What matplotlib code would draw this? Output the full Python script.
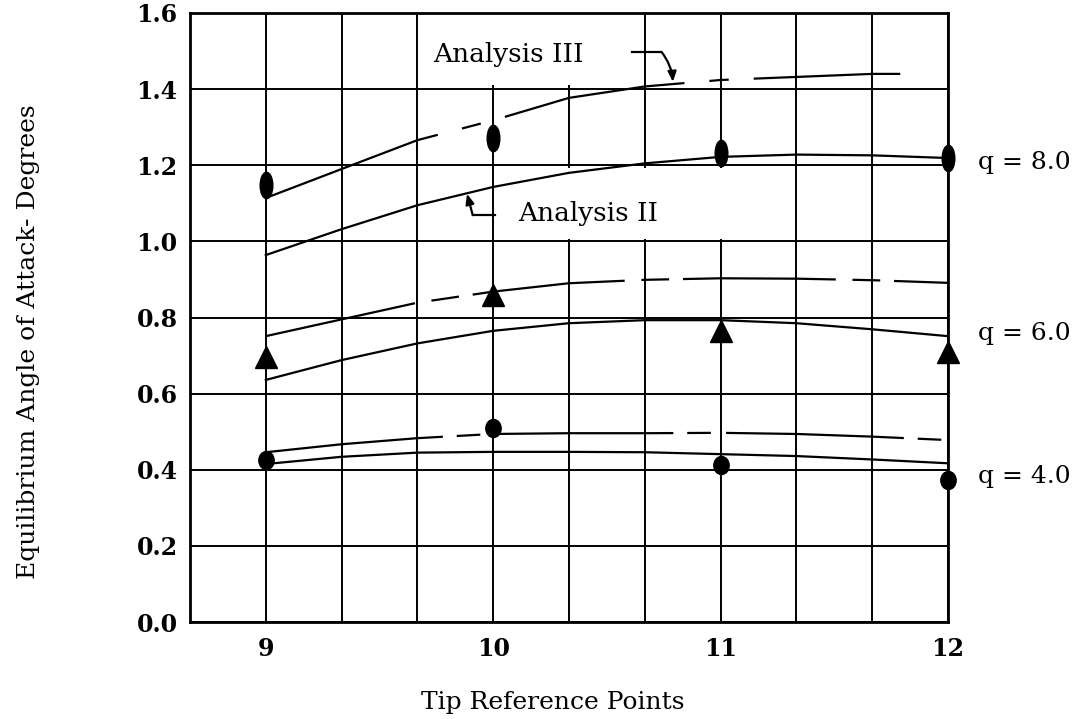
import numpy as np
import matplotlib
matplotlib.use("Agg")
import matplotlib.pyplot as plt
from matplotlib.path import Path
from matplotlib.transforms import Affine2D
from matplotlib.patches import Rectangle

plt.rcParams['font.family'] = ['DejaVu Serif', 'DejaVu Sans']
plt.rcParams['lines.scale_dashes'] = False

# ---------------- data ----------------
tip_points = [9, 10, 11, 12]
x_ticks = [9, 10, 11, 12]
y_ticks = [0.0, 0.2, 0.4, 0.6, 0.8, 1.0, 1.2, 1.4, 1.6]
y_tick_labels = ['0.0', '0.2', '0.4', '0.6', '0.8', '1.0', '1.2', '1.4', '1.6']

curve_x = [9, 9.333, 9.667, 10, 10.333, 10.667, 11, 11.333, 11.667, 12]
curve_x_III_q8 = [9, 9.333, 9.667, 10, 10.333, 10.667, 11, 11.333, 11.667, 11.79]

test_q8 = [1.148, 1.272, 1.232, 1.219]
test_q6 = [0.697, 0.860, 0.765, 0.709]
test_q4 = [0.426, 0.509, 0.412, 0.373]

anaIII_q8 = [1.114, 1.190, 1.266, 1.318, 1.377, 1.407, 1.424, 1.432, 1.440, 1.440]
anaII_q8 = [0.964, 1.032, 1.095, 1.143, 1.180, 1.205, 1.222, 1.228, 1.226, 1.219]
anaIII_q6 = [0.751, 0.795, 0.839, 0.868, 0.890, 0.899, 0.903, 0.902, 0.898, 0.891]
anaII_q6 = [0.636, 0.688, 0.732, 0.765, 0.785, 0.793, 0.793, 0.785, 0.769, 0.751]
anaIII_q4 = [0.446, 0.467, 0.483, 0.494, 0.496, 0.496, 0.497, 0.494, 0.487, 0.478]
anaII_q4 = [0.415, 0.434, 0.445, 0.447, 0.447, 0.446, 0.441, 0.436, 0.427, 0.417]

q_labels = ['q = 8.0', 'q = 6.0', 'q = 4.0']
q_label_y = [1.206, 0.759, 0.381]

# annotation leader geometry
lead_III_x = [10.61, 10.74, 10.79]
lead_III_y = [1.498, 1.498, 1.419]
lead_II_x = [10.007, 9.91, 9.885]
lead_II_y = [1.069, 1.069, 1.125]

# ---------------- figure ----------------
fig = plt.figure(figsize=(10.78, 7.19), dpi=100)
ax = fig.add_axes([190/1078, 1-622/719, 758/1078, 609/719])
ax.set_xlim(8.6667, 12.0)
ax.set_ylim(0.0, 1.6)

ax.set_xticks(x_ticks)
ax.set_xticklabels([str(t) for t in x_ticks])
ax.set_xticks(np.arange(9, 12.01, 1/3), minor=True)
ax.set_yticks(y_ticks)
ax.set_yticklabels(y_tick_labels)
ax.tick_params(axis='both', which='both', length=0)
ax.tick_params(axis='x', pad=11, labelsize=17)
ax.tick_params(axis='y', pad=9, labelsize=17)
for lab in ax.get_xticklabels() + ax.get_yticklabels():
    lab.set_fontweight('bold')

ax.set_axisbelow(True)
ax.grid(True, which='both', axis='x', color='black', linewidth=1.4)
ax.grid(True, which='major', axis='y', color='black', linewidth=1.4)
for sp in ax.spines.values():
    sp.set_linewidth(2.0)

# white masks behind label text (grid interrupted there)
ax.add_patch(Rectangle((9.72, 1.41), 0.88, 0.187, facecolor='white', edgecolor='none', zorder=1))
ax.add_patch(Rectangle((10.1, 1.006), 1.06, 0.188, facecolor='white', edgecolor='none', zorder=1))

lw = 1.6
ax.plot(curve_x_III_q8, anaIII_q8, color='black', lw=lw, linestyle=(0, (132, 18, 14, 18)), zorder=3)
ax.plot(curve_x, anaII_q8, color='black', lw=lw, zorder=3)
ax.plot(curve_x, anaIII_q6, color='black', lw=lw, linestyle=(0, (110, 12, 20, 10)), zorder=3)
ax.plot(curve_x, anaII_q6, color='black', lw=lw, zorder=3)
ax.plot(curve_x, anaIII_q4, color='black', lw=lw, linestyle=(0, (128, 10, 17, 11)), zorder=3)
ax.plot(curve_x, anaII_q4, color='black', lw=lw, zorder=3)

ellipse_tall = Path.unit_circle().transformed(Affine2D().scale(0.48, 1.0))
ellipse_round = Path.unit_circle().transformed(Affine2D().scale(0.85, 1.0))
ax.plot(tip_points, test_q8, linestyle='none', marker=ellipse_tall, markersize=19,
        color='black', zorder=4, clip_on=False)
ax.plot(tip_points, test_q6, linestyle='none', marker='^', markersize=16,
        color='black', zorder=4, clip_on=False)
ax.plot(tip_points, test_q4, linestyle='none', marker=ellipse_round, markersize=13,
        color='black', zorder=4, clip_on=False)

# labels inside the plot
ax.text(9.735, 1.49, 'Analysis III', fontsize=19, va='center', ha='left', zorder=5)
ax.text(10.109, 1.073, 'Analysis II', fontsize=19, va='center', ha='left', zorder=5)

ax.plot(lead_III_x[:2], lead_III_y[:2], color='black', lw=1.6, zorder=5)
ax.annotate('', xy=(lead_III_x[2], lead_III_y[2]), xytext=(lead_III_x[1], lead_III_y[1]),
            arrowprops=dict(arrowstyle='-|>,head_length=0.6,head_width=0.25', color='black',
                            lw=1.6, shrinkA=0, shrinkB=0,
                            connectionstyle='arc3,rad=-0.15'), zorder=5)
ax.plot(lead_II_x[:2], lead_II_y[:2], color='black', lw=1.6, zorder=5)
ax.annotate('', xy=(lead_II_x[2], lead_II_y[2]), xytext=(lead_II_x[1], lead_II_y[1]),
            arrowprops=dict(arrowstyle='-|>,head_length=0.6,head_width=0.25', color='black',
                            lw=1.6, shrinkA=0, shrinkB=0), zorder=5)

for lab, yv in zip(q_labels, q_label_y):
    ax.text(1.0396, yv, lab, transform=ax.get_yaxis_transform(), fontsize=18,
            va='center', ha='left')

ax.set_xlabel('Tip Reference Points', fontsize=18)
ax.xaxis.set_label_coords(0.478, -0.113)
ax.xaxis.label.set_va('top')
ax.set_ylabel('Equilibrium Angle of Attack- Degrees', fontsize=18)
ax.yaxis.set_label_coords(-0.198, 0.461)

fig.savefig('out.png', dpi=100)
